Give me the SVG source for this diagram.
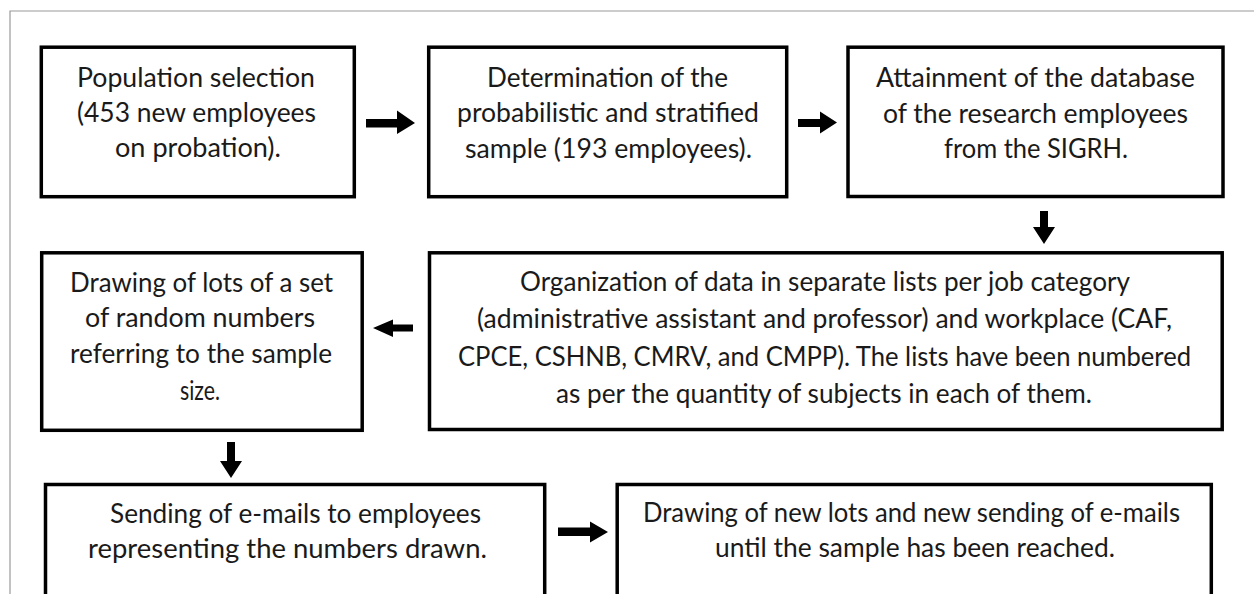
<svg xmlns="http://www.w3.org/2000/svg" width="1254" height="594" viewBox="0 0 1254 594">
<style>
.frame{fill:none;stroke:#9a9a9a;stroke-width:1.2}
.box{fill:#ffffff;stroke:#000000;stroke-width:3.5}
.t{font-family:Lato,"Open Sans","Liberation Sans",sans-serif;font-size:26px;fill:#1a1a1a;text-anchor:middle}
.arr{fill:#000000;stroke:none}
</style>
<rect x="0" y="0" width="1254" height="594" fill="#ffffff"/>
<path class="frame" d="M10,600 L10,11 L1260,11"/>
<g id="node1">
<rect class="box" x="41.3" y="47.2" width="313" height="149.5"/>
<text class="t" x="196" y="87" textLength="238" lengthAdjust="spacingAndGlyphs">Population selection</text>
<text class="t" x="196.5" y="122" textLength="239" lengthAdjust="spacingAndGlyphs">(453 new employees</text>
<text class="t" x="198" y="157" textLength="166" lengthAdjust="spacingAndGlyphs">on probation).</text>
</g>
<g id="node2">
<rect class="box" x="428.7" y="47.2" width="358" height="149.5"/>
<text class="t" x="607.5" y="87" textLength="241" lengthAdjust="spacingAndGlyphs">Determination of the</text>
<text class="t" x="608" y="122" textLength="302" lengthAdjust="spacingAndGlyphs">probabilistic and stratified</text>
<text class="t" x="608.5" y="158" textLength="287" lengthAdjust="spacingAndGlyphs">sample (193 employees).</text>
</g>
<g id="node3">
<rect class="box" x="848" y="47.2" width="375" height="149.3"/>
<text class="t" x="1035.5" y="87" textLength="319" lengthAdjust="spacingAndGlyphs">Attainment of the database</text>
<text class="t" x="1035.5" y="123" textLength="305" lengthAdjust="spacingAndGlyphs">of the research employees</text>
<text class="t" x="1036" y="158" textLength="184" lengthAdjust="spacingAndGlyphs">from the SIGRH.</text>
</g>
<g id="node4">
<rect class="box" x="41.7" y="252.8" width="320.5" height="177.5"/>
<text class="t" x="201.5" y="292" textLength="263" lengthAdjust="spacingAndGlyphs">Drawing of lots of a set</text>
<text class="t" x="200" y="327" textLength="230" lengthAdjust="spacingAndGlyphs">of random numbers</text>
<text class="t" x="201" y="363" textLength="262" lengthAdjust="spacingAndGlyphs">referring to the sample</text>
<text class="t" x="200" y="400" textLength="40" lengthAdjust="spacingAndGlyphs">size.</text>
</g>
<g id="node5">
<rect class="box" x="429.5" y="252.8" width="792.7" height="176.7"/>
<text class="t" x="825" y="291" textLength="610" lengthAdjust="spacingAndGlyphs">Organization of data in separate lists per job category</text>
<text class="t" x="824.5" y="328" textLength="695" lengthAdjust="spacingAndGlyphs">(administrative assistant and professor) and workplace (CAF,</text>
<text class="t" x="824.5" y="366" textLength="733" lengthAdjust="spacingAndGlyphs">CPCE, CSHNB, CMRV, and CMPP). The lists have been numbered</text>
<text class="t" x="824" y="403" textLength="536" lengthAdjust="spacingAndGlyphs">as per the quantity of subjects in each of them.</text>
</g>
<g id="node6">
<rect class="box" x="45.5" y="484.5" width="499.2" height="130"/>
<text class="t" x="295.5" y="523" textLength="371" lengthAdjust="spacingAndGlyphs">Sending of e-mails to employees</text>
<text class="t" x="287.5" y="558" textLength="399" lengthAdjust="spacingAndGlyphs">representing the numbers drawn.</text>
</g>
<g id="node7">
<rect class="box" x="617.2" y="484.5" width="594.1" height="130"/>
<text class="t" x="911.5" y="522" textLength="537" lengthAdjust="spacingAndGlyphs">Drawing of new lots and new sending of e-mails</text>
<text class="t" x="915" y="557" textLength="400" lengthAdjust="spacingAndGlyphs">until the sample has been reached.</text>
</g>
<g id="connectors">
<polygon class="arr" points="366,119 397,119 397,110.5 415,123 397,134 397,127.5 366,127.5"/>
<polygon class="arr" points="798,119 820,119 820,111.5 837,122.5 820,133.5 820,127 798,127"/>
<polygon class="arr" points="1040,211 1048,211 1048,227 1055,227 1044,244 1033,227 1040,227"/>
<polygon class="arr" points="413,324.5 393,324.5 393,319.5 373,328 393,337 393,331.5 413,331.5"/>
<polygon class="arr" points="227,442 235,442 235,461 242,461 231,478 220,461 227,461"/>
<polygon class="arr" points="558,527.5 590,527.5 590,521.5 608,532 590,542.5 590,536 558,536"/>
</g>
</svg>
